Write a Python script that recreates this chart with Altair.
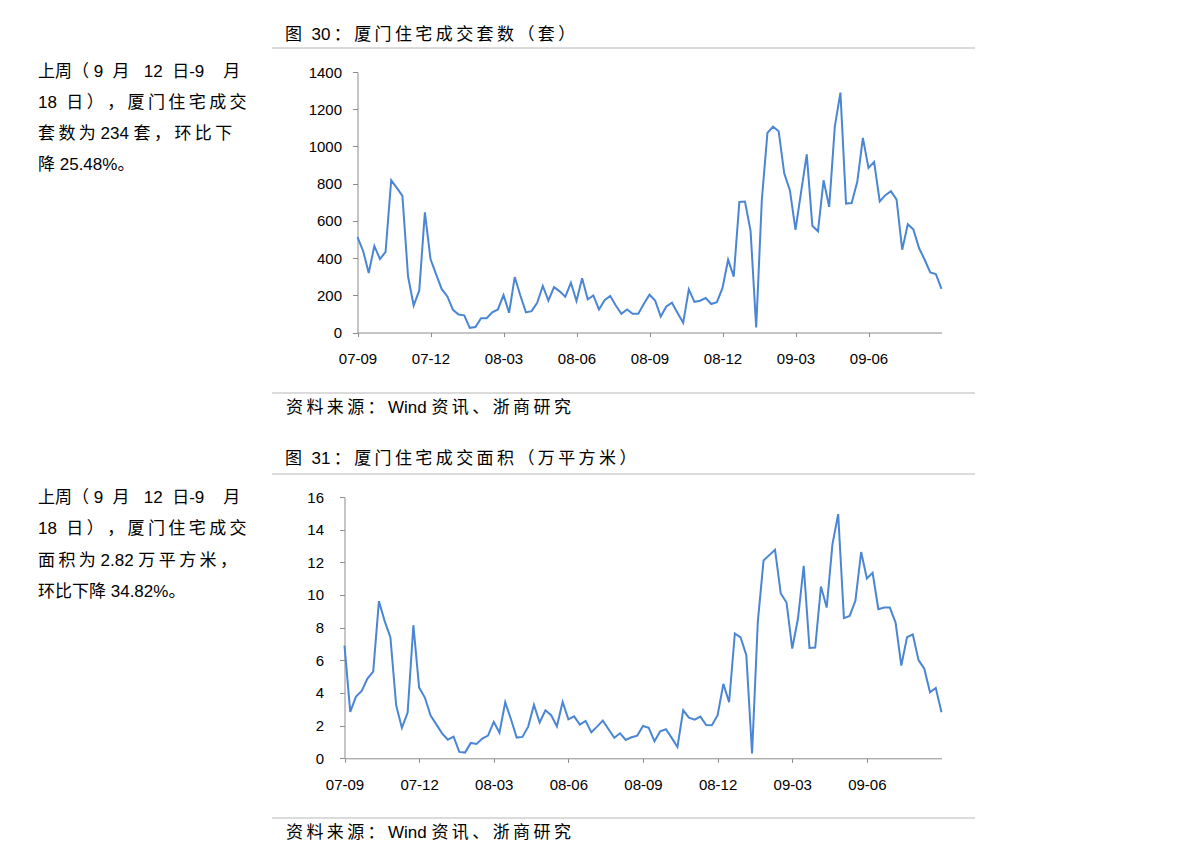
import altair as alt
import pandas as pd

# ---------------- data ----------------
units = [513, 438, 320, 465, 395, 433, 818, 777, 734, 302,
         145, 226, 646, 395, 312, 233, 194, 122, 97, 92,
         25, 29, 77, 77, 108, 124, 201, 106, 298, 199,
         108, 115, 160, 250, 172, 244, 221, 192, 267, 169,
         291, 178, 199, 124, 174, 196, 145, 101, 124, 101,
         101, 154, 203, 172, 86, 140, 160, 105, 52, 232,
         165, 171, 185, 153, 163, 240, 391, 300, 702, 704,
         546, 27, 711, 1073, 1106, 1082, 854, 765, 551, 756,
         957, 574, 544, 818, 675, 1106, 1289, 693, 696, 810,
         1046, 885, 917, 704, 738, 759, 714, 445, 582, 553,
         454, 391, 323, 314, 234]

area = [6.9, 2.84, 3.78, 4.13, 4.88, 5.31, 9.62, 8.40, 7.40, 3.25,
        1.86, 2.80, 8.15, 4.33, 3.72, 2.62, 2.08, 1.53, 1.14, 1.33,
        0.39, 0.35, 0.94, 0.88, 1.21, 1.39, 2.23, 1.57, 3.43, 2.39,
        1.27, 1.31, 1.94, 3.27, 2.19, 2.94, 2.64, 1.96, 3.45, 2.39,
        2.57, 2.06, 2.29, 1.59, 1.94, 2.31, 1.78, 1.25, 1.53, 1.12,
        1.29, 1.39, 1.98, 1.86, 1.04, 1.65, 1.78, 1.25, 0.69, 2.94,
        2.49, 2.37, 2.55, 2.04, 2.02, 2.64, 4.56, 3.43, 7.64, 7.40,
        6.31, 0.29, 8.36, 12.11, 12.44, 12.77, 10.09, 9.54, 6.72, 8.56,
        11.79, 6.76, 6.78, 10.52, 9.23, 13.10, 14.95, 8.58, 8.72, 9.64,
        12.63, 11.01, 11.36, 9.13, 9.23, 9.23, 8.31, 5.68, 7.42, 7.58,
        6.01, 5.49, 4.04, 4.31, 2.82]

tick_labels = ["07-09", "07-12", "08-03", "08-06", "08-09", "08-12", "09-03", "09-06"]
weeks_per_tick = 13

NB = "\u00a0"
title1 = "图" + NB + " 30：厦门住宅成交套数（套）"
title2 = "图" + NB + " 31：厦门住宅成交面积（万平方米）"
source = "资料来源：Wind 资讯、浙商研究"

line_a = "上周（" + NB + "9" + NB * 2 + "月" + NB * 3 + "12" + NB * 2 + "日-9" + NB * 4 + "月"
line_b = "18" + NB * 2 + "日），厦门住宅成交"
note1 = [line_a, line_b, "套数为 234 套，环比下", "降 25.48%。"]
note2 = [line_a, line_b, "面积为 2.82 万平方米，", "环比下降 34.82%。"]


def is_cjk(c):
    return ord(c) >= 0x2E80


def spread(s):
    out = ""
    for i, c in enumerate(s):
        out += c
        if i + 1 < len(s):
            n = s[i + 1]
            if c not in (" ", NB) and n not in (" ", NB) and (is_cjk(c) or is_cjk(n)):
                out += "\u2009"
    return out


W, H = 1191, 864
FONT = "Liberation Sans, Noto Sans CJK SC"
LINE_COLOR = "#4a86d4"
AX = "#8c8c8c"

n = len(units)
df1 = pd.DataFrame({"week": list(range(n)), "units": units})
df2 = pd.DataFrame({"week": list(range(len(area))), "area": area})

tick_pos = [weeks_per_tick * i for i in range(len(tick_labels))]
label_expr = "[" + ",".join("'%s'" % t for t in tick_labels) + "][round(datum.value/%d)]" % weeks_per_tick


def x_axis(axis_y, pad):
    return alt.Axis(orient="bottom", offset=-(H - axis_y), values=tick_pos, labelExpr=label_expr,
                    title=None, grid=False, domainColor=AX, tickColor=AX, tickSize=4,
                    labelPadding=pad, labelFont="Liberation Sans", labelFontSize=15,
                    labelColor="#000", labelFlush=False, labelOverlap=False, labelBound=False)


def y_axis(axis_x, values, pad):
    return alt.Axis(orient="left", offset=-axis_x, values=values, format="d", title=None, grid=False,
                    domainColor=AX, tickColor=AX, tickSize=5, labelPadding=pad,
                    labelFont="Liberation Sans", labelFontSize=15, labelColor="#000")


line1 = alt.Chart(df1).mark_line(color=LINE_COLOR, strokeWidth=2).encode(
    x=alt.X("week:Q", scale=alt.Scale(domain=[0, n - 1], range=[357.5, 941.5], nice=False, zero=False),
            axis=x_axis(332.5, 15)),
    y=alt.Y("units:Q", scale=alt.Scale(domain=[0, 1400], range=[332.5, 72], nice=False),
            axis=y_axis(357.5, list(range(0, 1401, 200)), 11)),
)

line2 = alt.Chart(df2).mark_line(color=LINE_COLOR, strokeWidth=2).encode(
    x=alt.X("week:Q", scale=alt.Scale(domain=[0, len(area) - 1], range=[344.5, 941.5], nice=False, zero=False),
            axis=x_axis(758.3, 15)),
    y=alt.Y("area:Q", scale=alt.Scale(domain=[0, 16], range=[758.3, 497], nice=False),
            axis=y_axis(344.5, list(range(0, 17, 2)), 16)),
)


def text_layer(s, x, y, size=17, weight="normal"):
    return alt.Chart(pd.DataFrame({"t": [s]})).mark_text(
        align="left", baseline="middle", font=FONT, fontSize=size, color="#000", fontWeight=weight
    ).encode(x=alt.value(x), y=alt.value(y), text="t:N")


def hrule(y, x1=272, x2=975):
    return alt.Chart(pd.DataFrame({"r": [0]})).mark_rule(color="#cfcfcf", strokeWidth=1.5).encode(
        x=alt.value(x1), x2=alt.value(x2), y=alt.value(y))


layers = [line1, line2]
layers.append(text_layer(spread(title1), 285, 35))
layers.append(text_layer(spread(title2), 285, 459))
layers.append(text_layer(spread(source), 286, 408))
layers.append(text_layer(spread(source), 286, 833))
for r_y in [48, 393, 474, 818]:
    layers.append(hrule(r_y))

for i, (s, y) in enumerate(zip(note1, [72, 103, 134, 165])):
    layers.append(text_layer(spread(s) if i in (1, 2) else s, 38, y))
for i, (s, y) in enumerate(zip(note2, [498, 529, 561, 592])):
    layers.append(text_layer(spread(s) if i in (1, 2) else s, 38, y))

chart = alt.layer(*layers).resolve_scale(x="independent", y="independent").resolve_axis(
    x="independent", y="independent"
).properties(
    width=W, height=H, autosize=alt.AutoSizeParams(type="none"), padding=0,
    background="#ffffff"
).configure_view(stroke=None)

chart.save("out.html", embed_options={"renderer": "svg", "actions": False})
